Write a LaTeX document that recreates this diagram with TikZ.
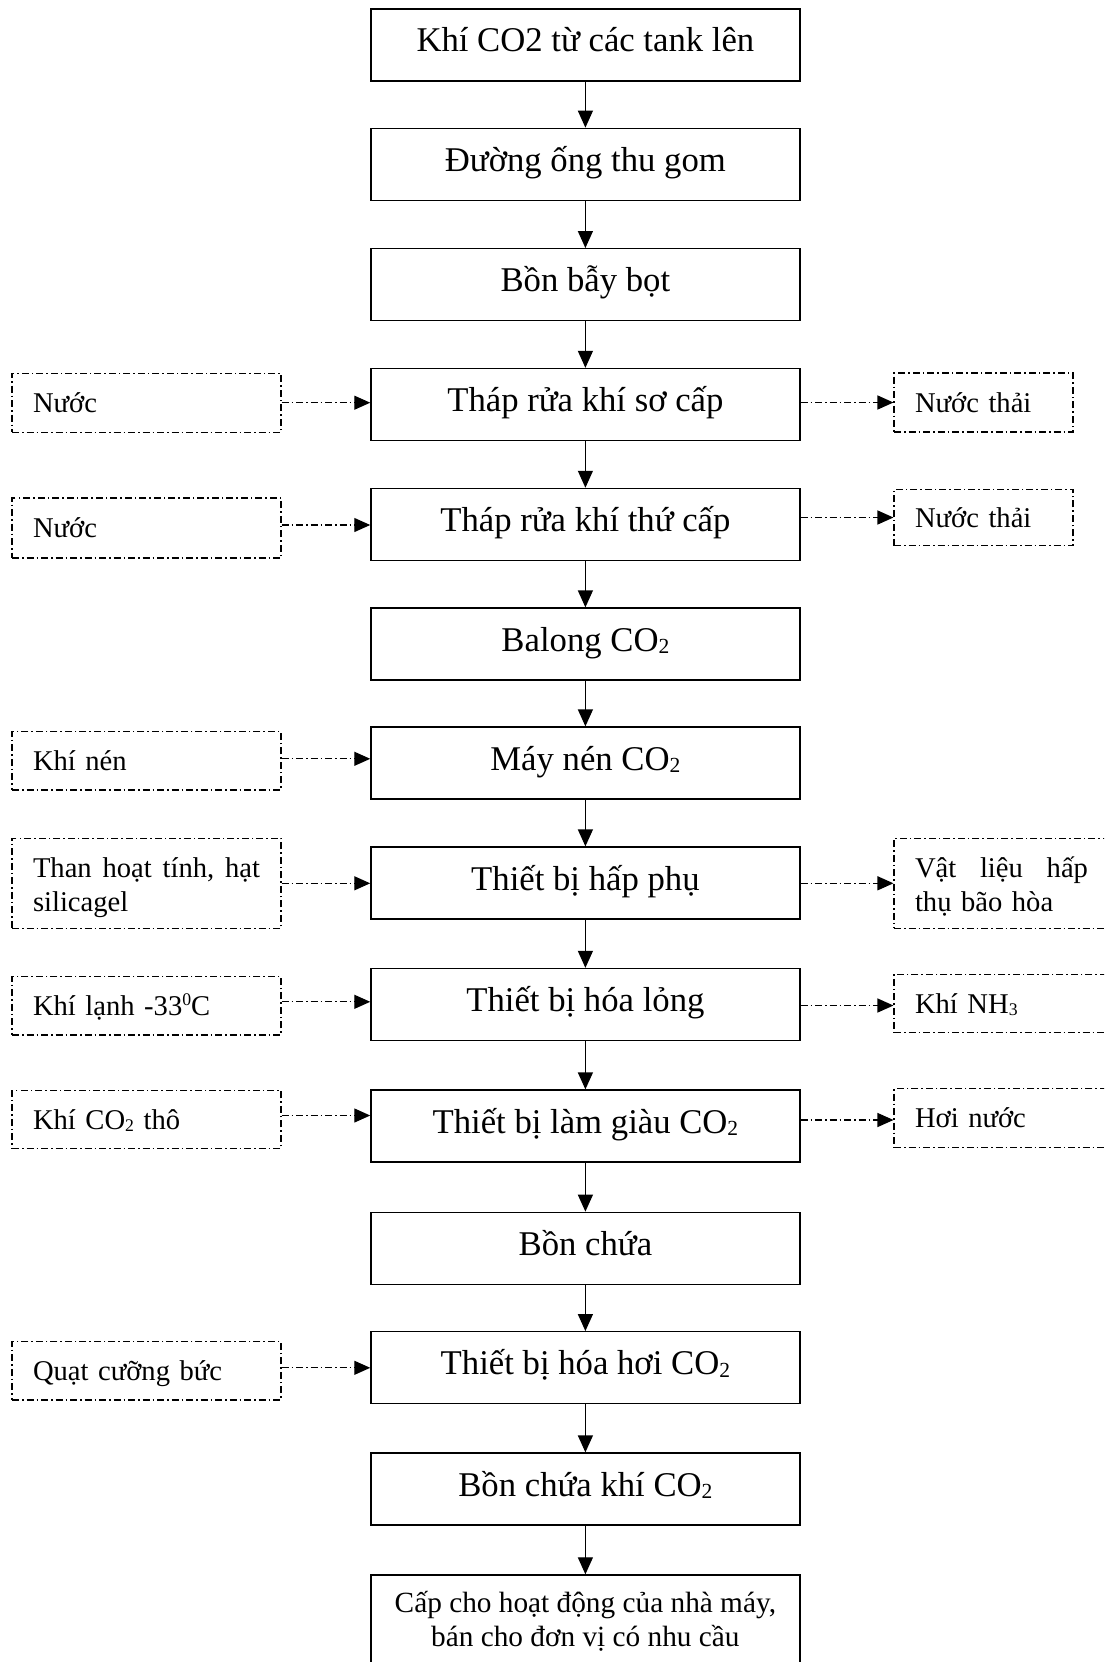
\documentclass[tikz,border=0pt]{standalone}
\usepackage{fontspec}
\setmainfont{Liberation Serif}
\usetikzlibrary{arrows.meta}
% small lowered / raised figures as in CO2 and -33 degrees
\newcommand\lowfig[1]{\raisebox{-0.07em}{\scalebox{0.62}{#1}}}
\newcommand\highfig[1]{\raisebox{0.36em}{\scalebox{0.62}{#1}}}
% struts fixing the extent of two-line texts
\newcommand\topstrut{\rule{0pt}{32pt}}
\newcommand\botstrut{\rule[-10.6pt]{0pt}{10.6pt}}
\tikzset{
  dashdot/.style={dash pattern=on 7pt off 3pt on 1.5pt off 3pt},
  stage/.style={draw, line width=1.3pt, minimum width=429pt, minimum height=72pt,
    inner sep=0pt, text height=22pt, text depth=8pt,
    font=\fontsize{34.7}{40}\selectfont},
  sidebox/.style={draw, dashdot, line width=1.1pt, inner xsep=21pt, inner ysep=0pt,
    align=left, font=\fontsize{28.6}{34}\selectfont},
  oneline/.style={text height=19pt, text depth=0pt},
  leftbox/.style={sidebox, text width=227pt, minimum width=269pt},
  rightbox/.style={sidebox, text width=137pt, minimum width=179pt},
  widebox/.style={sidebox, text width=173pt, minimum width=215pt},
  flow/.style={-{Triangle[length=17pt,width=15pt]}, line width=1.3pt},
  feed/.style={-{Triangle[length=16pt,width=14pt]}, line width=1.3pt, dashdot},
}
\begin{document}
\begin{tikzpicture}[x=1pt,y=-1pt]
\useasboundingbox (0,0) rectangle (1104,1662);
\clip (0,0) rectangle (1104,1662);

% main process chain
\node[stage] (m1)  at (585.4,45)     {Khí CO2 từ các tank lên};
\node[stage] (m2)  at (585.4,164.3)  {Đường ống thu gom};
\node[stage] (m3)  at (585.4,284.7)  {Bồn bẫy bọt};
\node[stage] (m4)  at (585.4,404.5)  {Tháp rửa khí sơ cấp};
\node[stage] (m5)  at (585.4,524.4)  {Tháp rửa khí thứ cấp};
\node[stage] (m6)  at (585.4,644)    {Balong CO\lowfig{2}};
\node[stage] (m7)  at (585.4,763)    {Máy nén CO\lowfig{2}};
\node[stage] (m8)  at (585.4,883)    {Thiết bị hấp phụ};
\node[stage] (m9)  at (585.4,1004.5) {Thiết bị hóa lỏng};
\node[stage] (m10) at (585.4,1126)   {Thiết bị làm giàu CO\lowfig{2}};
\node[stage] (m11) at (585.4,1248.3) {Bồn chứa};
\node[stage] (m12) at (585.4,1367.7) {Thiết bị hóa hơi CO\lowfig{2}};
\node[stage] (m13) at (585.4,1489)   {Bồn chứa khí CO\lowfig{2}};
\node[stage, anchor=north, minimum height=110pt] (m14) at (585.4,1574.3) {};
\node[align=center, inner sep=0pt, font=\fontsize{29.3}{33.5}\selectfont]
  (m14t) at (585.4,1619)
  {\topstrut Cấp cho hoạt động của nhà máy,\\bán cho đơn vị có nhu cầu\botstrut};

\foreach \a/\b in {m1/m2,m2/m3,m3/m4,m4/m5,m5/m6,m6/m7,m7/m8,m8/m9,m9/m10,
                   m10/m11,m11/m12,m12/m13,m13/m14}
  \draw[flow] (\a.south) -- (\b.north);

% inputs on the left
\node[leftbox, oneline, minimum height=58.7pt] (l4)  at (146.5,402.7)  {Nước};
\node[leftbox, oneline, minimum height=60pt]   (l5)  at (146.5,528)    {Nước};
\node[leftbox, oneline, minimum height=58.3pt] (l7)  at (146.5,760.8)  {Khí nén};
\node[leftbox, minimum height=90pt]            (l8)  at (146.5,883.3)
  {\topstrut\hbox to 227pt{Than\hfill hoạt\hfill tính,\hfill hạt}\\silicagel\botstrut};
\node[leftbox, oneline, minimum height=58.3pt] (l9)  at (146.5,1005.8) {Khí lạnh -33\highfig{0}C};
\node[leftbox, oneline, minimum height=57.5pt] (l10) at (146.5,1119.5) {Khí CO\lowfig{2} thô};
\node[leftbox, oneline, minimum height=58.3pt] (l12) at (146.5,1370.8) {Quạt cưỡng bức};

\draw[feed] (l4.east) -- (l4.east -| m4.west);
\draw[feed] ([yshift=3pt]l5.east) -- ([yshift=3pt]l5.east -| m5.west);
\draw[feed] ([yshift=2pt]l7.east) -- ([yshift=2pt]l7.east -| m7.west);
\draw[feed] (l8.east) -- (l8.east -| m8.west);
\draw[feed] ([yshift=4pt]l9.east) -- ([yshift=4pt]l9.east -| m9.west);
\draw[feed] ([yshift=4pt]l10.east) -- ([yshift=4pt]l10.east -| m10.west);
\draw[feed] ([yshift=3pt]l12.east) -- ([yshift=3pt]l12.east -| m12.west);

% outputs on the right
\node[rightbox, oneline, minimum height=59pt]   (r4)  at (983.5,402.5)  {Nước thải};
\node[rightbox, oneline, minimum height=56.5pt] (r5)  at (983.5,517.5)  {Nước thải};
\node[widebox, minimum height=90pt]             (r8)  at (1001.5,883.3)
  {\topstrut\hbox to 173pt{Vật\hfill liệu\hfill hấp}\\thụ bão hòa\botstrut};
\node[widebox, oneline, minimum height=58.4pt] (r9)  at (1001.5,1003.5) {Khí NH\lowfig{3}};
\node[widebox, oneline, minimum height=58.3pt] (r10) at (1001.5,1118)   {Hơi nước};

\draw[feed] (r4.west -| m4.east) -- (r4.west);
\draw[feed] (r5.west -| m5.east) -- (r5.west);
\draw[feed] (r8.west -| m8.east) -- (r8.west);
\draw[feed] ([yshift=-2pt]r9.west -| m9.east) -- ([yshift=-2pt]r9.west);
\draw[feed] ([yshift=-2pt]r10.west -| m10.east) -- ([yshift=-2pt]r10.west);
\end{tikzpicture}
\end{document}
